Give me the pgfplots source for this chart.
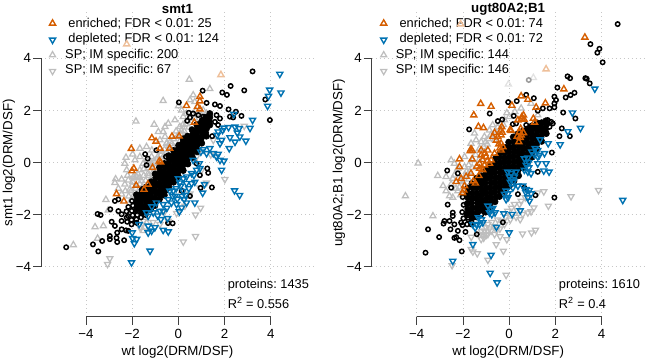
\documentclass[border=0pt]{standalone}
\usepackage{fontspec}
\setmainfont{Liberation Sans}
\usepackage{pgfplots}
\pgfplotsset{compat=1.18}
\definecolor{orgc}{HTML}{D55E00}
\definecolor{orgp}{HTML}{EEBF99}
\definecolor{bluc}{HTML}{0072B2}
\definecolor{gryc}{HTML}{BEBEBE}
\definecolor{gryp}{HTML}{E2E2E2}
\definecolor{axc}{HTML}{404040}
\newcommand{\myf}{\fontsize{13.3}{16}\selectfont\frenchspacing}
\newcommand{\myl}{\fontsize{12.8}{16}\selectfont\frenchspacing}
\pgfplotsset{
  gu/.style={only marks,mark=triangle,color=gryc,mark size=3.5pt,mark options={line width=1.25pt}},
  gd/.style={only marks,mark=triangle,color=gryc,mark size=3.5pt,mark options={rotate=180,line width=1.25pt}},
  bc/.style={only marks,mark=o,color=black,mark size=2.2pt,mark options={line width=1.5pt}},
  bf/.style={only marks,mark=*,color=black,mark size=3.1pt,mark options={line width=.6pt,fill=black}},
  ou/.style={only marks,mark=triangle,color=orgc,mark size=3.5pt,mark options={line width=1.4pt}},
  bd/.style={only marks,mark=triangle,color=bluc,mark size=3.5pt,mark options={rotate=180,line width=1.4pt}},
  panel/.style={
    scale only axis,width=273pt,height=307.7pt,
    xmin=-5.95,xmax=5.87,ymin=-5.93,ymax=5.9,
    clip=false,axis lines=left,axis line style={draw=none,-},
    xtick={-4,-2,0,2,4},ytick={-4,-2,0,2,4},
    xticklabels={−4,−2,0,2,4},yticklabels={−4,−2,0,2,4},
    tick align=outside,major tick length=8pt,
    tick style={draw=axc,line width=0.8pt},
    grid=major,grid style={dash pattern=on 0.9pt off 3.1pt,draw=black!22,line width=0.8pt},
    xticklabel style={yshift=-1pt},yticklabel style={xshift=1.5pt},
    every axis x label/.style={at={(axis description cs:0.5,-0.114)},anchor=center},
    every axis title shift=0pt,
    title style={at={(axis description cs:0.5,1)},anchor=center,font=\myf\bfseries},
  },
}
\begin{document}
\begin{tikzpicture}[font=\myf]
\path[use as bounding box] (0,0) rectangle (648pt,362pt);
\begin{axis}[panel,at={(41pt,45.3pt)},anchor=south west,title={smt1},
  xlabel={wt log2(DRM/DSF)},ylabel={smt1 log2(DRM/DSF)},
  every axis y label/.style={at={(axis description cs:-0.117,0.5)},rotate=90,anchor=center}]
\draw[axc,line width=0.9pt] (axis cs:-5.95,-4)--(axis cs:-5.95,4);
\draw[axc,line width=0.9pt] (axis cs:-4,-5.93)--(axis cs:4,-5.93);
% grey up
\addplot[gu] coordinates {(.47,3.19)(1.36,2.83)(-.66,2.37)(0,2.17)(-1.84,1.58)(-1.05,1.46)(.64,2.59)(.5,2.4)(.71,2.33)(-.58,1.37)(-.44,1.5)(-.15,1.63)(-.66,1.18)(-.58,.99)(-1.67,.54)(-2.27,.19)(-1.98,.32)(-1.88,.09)(-2.32,-.04)(-2.24,-.29)(-2.72,-.64)(-2.46,-.65)(-2.17,-.68)(-1.38,.6)(-1.15,.47)(-1.67,.22)(-1.52,-.04)(-1.67,-.29)(-1.81,-.55)(-1.31,-.42)(-.95,-.42)(-.8,.86)(-.22,.6)(.06,1.37)(.21,1.76)(.93,1.88)(.35,1.88)(.14,2.01)(1.22,1.88)(1.07,2.01)(-.87,1.18)(-.51,.73)(-1.38,.09)(-1.16,.22)(-1.95,-.55)(-3.14,-1.43)(-3.61,-2.48)(-3.25,-2.44)(-3.5,-2.92)(-4.55,-3.17)(-3.04,-1.84)(-2.75,-.78)(-2.32,-.84)(-2.1,-1.03)(-1.95,-1.29)(-2.46,-1.22)(-1.67,-.84)(-1.81,-1.22)(-1.52,-2.63)(-1.45,-2.5)(-1.38,-2.31)(-2.2,-.5)(-2,-.9)(-1.9,-.6)(-1.7,-.6)(-1.5,-.5)(-1.3,-.2)(-1.2,-.1)(-1.05,.05)(-.9,.2)(-.75,.3)(-.6,.5)(-.5,.75)(-.35,.8)(-.2,.9)(-.1,1.2)(.1,1.1)(.2,1.45)(.4,1.6)(.6,1.85)(.75,2.0)(-2.6,-1.0)(-2.3,-1.1)(-2.15,-1.3)(-1.55,-.95)(-1.2,-.65)(-1.0,-.2)(-.85,.0)(-.55,.2)(-.35,.45)(-.15,.5)(.05,.8)(.25,1.2)(.45,1.35)(.7,1.7)
(-1.75,-.45)(-1.6,-.7)(-1.42,-.7)(-1.1,-.38)(-1.28,-.5)(-1.15,-.05)(-.95,.12)(-.72,.42)(-.62,.28)(-.4,.62)(-.28,.72)(-.05,1.0)(.12,1.22)(.32,1.48)(.52,1.72)(-2.05,-1.1)(-1.85,-1.0)(-1.98,-.75)(-2.05,-1.45)(-1.5,-.25)(-1.2,.0)};
% grey down
\addplot[gd] coordinates {(-3.07,-3.91)(-2.97,-3.69)(.21,-3.05)(.74,-2.84)(.74,-2.01)(.96,-1.75)(2.01,-.65)(2.85,1.4)(-1.67,-2.5)(-.44,-2.25)(-.8,-2.38)(-.08,-1.95)(.28,-1.67)(.93,-.97)(1.22,-.78)(.79,.22)(1.51,.86)(-1.1,-2.3)(-.6,-1.9)(-1.5,-2.25)(.5,-1.2)(1,-.3)(1.4,.3)};
% black, open circles that stand clear
\addplot[bc] coordinates {(3.21,3.5)(2.85,2.77)(2.26,2.94)(1.9,2.69)(2.1,2.6)(1.05,2.76)(.02,2.31)(3.76,2.42)(3.96,1.63)(2.17,2.04)(2.49,1.95)(2.73,1.79)(2.23,1.76)(2.37,1.73)(1.22,2.29)(1.58,2.23)(1.8,2.17)(1.65,1.82)(1.8,1.69)(1.58,1.56)(1.72,1.44)(1.46,1.01)(.45,1.91)(.5,1.73)(.38,1.6)(.64,1.88)(.86,1.82)(1.07,1.76)(-1.44,.32)(-1.33,.15)(-1.38,-.1)(-.95,.47)(-.54,.22)(1.25,-.23)(1.29,-.4)(.93,-.49)(.79,-.04)(1.45,-.96)(.96,-.98)(.14,-1.09)(.5,-1.29)(-.45,-2.33)(-.25,-2.34)(-3.5,-1.98)(-3.37,-2.02)(-2.95,-1.8)(-2.89,-2.28)(-2.75,-2.44)(-2.46,-2.57)(-2.27,-2.61)(-2.65,-2.7)(-2.97,-2.83)(-2.97,-2.95)(-3.3,-3.02)(-2.68,-2.9)(-2.65,-3.06)(-2.35,-2.99)(-3.7,-3.15)(-4.86,-3.26)(-3.47,-3.42)(-2.75,-1.48)(-2.6,-1.42)(-2.6,-1.87)(-2.46,-1.99)(-2.46,-2.25)(-2.24,-2.12)(-2.03,-2.38)(-2.17,-2.63)(-1.81,-2.32)
(-2.22,-2.28)(-2.18,-2.06)(-2.25,-1.88)(-2.17,-1.71)
(-2.03,-2.21)(-1.98,-2.03)(-2.02,-1.86)(-1.97,-1.66)(-2.01,-1.48)
(-1.82,-2.19)(-1.78,-2.02)(-1.62,-2.11)(-1.42,-2.02)};
% black, the dense core where the circles overlap
\addplot[bf] coordinates {(-1.83,-1.84)(-1.79,-1.69)(-1.81,-1.53)(-1.78,-1.39)(-1.82,-1.24)
(-1.58,-1.94)(-1.61,-1.79)(-1.59,-1.66)(-1.63,-1.51)(-1.58,-1.36)(-1.6,-1.19)(-1.57,-1.04)
(-1.38,-1.84)(-1.41,-1.71)(-1.37,-1.54)(-1.42,-1.41)(-1.39,-1.26)(-1.41,-1.09)(-1.38,-.94)
(-1.21,-1.81)(-1.18,-1.66)(-1.22,-1.49)(-1.19,-1.36)(-1.21,-1.19)(-1.17,-1.04)(-1.22,-.91)(-1.18,-.74)
(-1.02,-1.66)(-.98,-1.49)(-1.01,-1.36)(-.97,-1.19)(-1.02,-1.06)(-.99,-.89)(-1.03,-.76)(-.98,-.59)(-1.01,-.44)
(-.82,-1.41)(-.78,-1.24)(-.81,-1.11)(-.79,-.94)(-.82,-.81)(-.78,-.64)(-.81,-.51)(-.79,-.34)(-.82,-.19)
(-.61,-1.26)(-.58,-1.09)(-.62,-.96)(-.59,-.79)(-.61,-.66)(-.58,-.49)(-.62,-.36)(-.59,-.19)(-.61,-.04)
(-.42,-.96)(-.38,-.79)(-.41,-.66)(-.39,-.49)(-.42,-.36)(-.38,-.19)(-.41,-.06)(-.39,.11)(-.42,.26)
(-.21,-.76)(-.18,-.59)(-.22,-.46)(-.19,-.29)(-.21,-.16)(-.18,.01)(-.22,.14)(-.19,.31)(-.21,.46)
(.01,-.56)(-.02,-.39)(.02,-.26)(-.01,-.09)(.01,.06)(-.02,.21)(.02,.34)(-.01,.51)(.01,.66)
(.21,-.31)(.18,-.14)(.22,-.01)(.19,.16)(.21,.29)(.18,.46)(.22,.59)(.19,.76)(.21,.91)
(.41,-.06)(.38,.11)(.42,.24)(.39,.41)(.41,.54)(.38,.71)(.42,.84)(.39,1.01)
(.61,.19)(.58,.36)(.62,.49)(.59,.66)(.61,.79)(.58,.96)(.62,1.09)(.59,1.26)
(.81,.41)(.78,.56)(.82,.69)(.79,.86)(.81,.99)(.78,1.16)(.82,1.29)(.79,1.46)
(1.01,.74)(.98,.91)(1.02,1.04)(.99,1.21)(1.01,1.34)(.98,1.51)(1.02,1.61)
(1.21,1.01)(1.18,1.14)(1.22,1.31)(1.19,1.44)(1.21,1.61)(1.18,1.74)
(1.36,1.44)(1.33,1.61)(1.36,1.74)(1.36,1.88)};
% orange
\addplot[ou,color=orgp] coordinates {(-2.24,4.55)(1.84,3.37)};
\addplot[ou] coordinates {(.93,2.53)(.93,2.36)(.35,2.18)(.82,2.14)(.93,2.05)(.69,1.54)(-1.15,.94)(-.97,.81)(-.28,1.0)(.03,1.01)(-2.04,.53)(-.8,.54)(-.38,.54)(-.83,.05)(-.77,.01)(-1.12,-.2)(-1.93,-.23)(-2.01,-.33)(-1.83,-.88)(-1.32,-.84)(-1.49,-1.04)(-2.68,-1.21)(-2.36,-1.49)};
% blue
\addplot[bd] coordinates {(4.39,3.40)(4.44,2.68)(3.95,2.79)(3.90,2.55)(3.86,2.17)(3.21,1.63)(2.4,1.86)(3.1,1.32)(2.92,.83)(2.63,1.31)(2.66,.99)(2.45,1.37)(2.45,.79)(2.2,.54)(2.17,1.35)(1.97,1.33)(1.72,1.18)(1.68,1.05)(1.87,.86)(1.8,.73)(2.23,.96)(2.55,1.14)(1.91,1.24)(1.36,.54)(1.07,.5)(.97,.41)(1.51,.35)(1.22,.35)(1.72,.32)(1.8,.09)(1.97,.06)(1.87,-.29)(1.65,.22)(.64,.09)(.9,-.04)(.93,-.23)(.79,-.29)(.57,-.42)(.35,-.55)(0,-.62)(.21,-.62)(.67,-.49)(2.43,-1.08)(2.65,-1.26)(1.13,-.84)(1.05,-1.17)(.57,-.81)(.71,-.75)(.06,-.78)(-.22,-1.09)(-.37,-1.09)(-.15,-1.29)(-.44,-1.42)(-.3,-1.55)(-.08,-1.61)(.04,-1.89)(.25,-1.42)(.35,-1.55)(.71,-1.55)(.14,-1.74)(-.95,-1.55)(-.66,-1.61)(-.8,-1.87)(-1.38,-1.93)(-1.09,-1.93)(-1.31,-2.06)(-.66,-1.87)(-.47,-2.15)(-.76,-2.19)(-1.7,-2.38)(-1.31,-2.44)(-1.02,-2.5)(-1.31,-2.7)(-1.16,-2.63)(-.66,-2.6)(-.44,-2.66)(-2,-2.7)(-1.81,-2.95)(-1.98,-2.92)(-1.91,-3.11)(-1.23,-3.4)(-2.03,-3.85)(.3,-1.25)(.45,-1.0)(-.1,-1.0)(.2,-1.1)(.1,-.9)(.35,-.8)(-.05,-1.4)(.15,-1.3)(-.25,-1.3)(-.5,-1.75)(-.9,-2.05)(-1.15,-1.7)};
% legend icons
\addplot[ou] coordinates {(-5.45,5.35)};
\addplot[bd] coordinates {(-5.45,4.71)};
\addplot[gu] coordinates {(-5.45,4.13)};
\addplot[gd] coordinates {(-5.45,3.51)};
\node[anchor=west,inner sep=0pt,font=\myl] at (axis cs:-4.77,5.33) {enriched; FDR < 0.01: 25};
\node[anchor=west,inner sep=0pt,font=\myl] at (axis cs:-4.77,4.73) {depleted; FDR < 0.01: 124};
\node[anchor=west,inner sep=0pt,font=\myl] at (axis cs:-4.91,4.13) {SP; IM specific: 200};
\node[anchor=west,inner sep=0pt,font=\myl] at (axis cs:-4.91,3.53) {SP; IM specific: 67};
\node[anchor=west,inner sep=0pt,font=\myl] at (axis cs:2.13,-4.71) {proteins: 1435};
\node[anchor=west,inner sep=0pt,font=\myl] at (axis cs:2.13,-5.40) {R\textsuperscript{2} = 0.556};
\end{axis}
\begin{axis}[panel,at={(371.7pt,45.3pt)},anchor=south west,title={ugt80A2;B1},
  xlabel={wt log2(DRM/DSF)},ylabel={ugt80A2;B1 log2(DRM/DSF)},
  every axis y label/.style={at={(axis description cs:-0.12,0.5)},rotate=90,anchor=center}]
\draw[axc,line width=0.9pt] (axis cs:-5.95,-4)--(axis cs:-5.95,4);
\draw[axc,line width=0.9pt] (axis cs:-4,-5.93)--(axis cs:4,-5.93);
% grey up
\addplot[gu,color=gryp] coordinates {(-.03,3.01)(1.05,3.26)};
\addplot[gu] coordinates {(-3.94,-.03)(-2.51,.09)(-3.09,-.51)(-2.73,-.55)(-2.37,-.49)(-2.37,-.04)(-1.93,.22)(-1.5,1.12)(-1.43,.86)(-1.65,.73)(-.71,1.44)(-.85,1.24)(-1.93,-.17)(-1.72,-.36)(-1.57,.09)(-1.21,.79)(-1.02,.79)(-1.07,.99)(.01,1.76)(.52,2.08)(.95,2.27)(1.24,1.82)(-.2,1.63)(-.63,.86)(-1.28,.54)(-2.22,-.23)(-2.44,-.62)(-4.49,-1.29)(-3.3,-2.06)(-2.51,-.84)(-2.73,-1.1)(-2.44,-1.35)(-2.22,-1.1)(-2.58,-1.29)(-2.86,-.9)(-2.1,-.7)(-1.9,-.5)(-1.75,-.1)(-1.45,.3)(-1.3,.1)(-1.1,.6)(-.9,.9)(-.6,1.2)(-.4,1.5)(-.1,1.9)(.25,1.95)
(-2.3,-1.0)(-2.15,-.95)(-2.1,-1.25)(-2.0,-.75)(-1.85,-.35)(-1.75,-.65)(-1.6,-.2)(-.95,.7)(-.8,1.05)(-.5,1.35)(-.25,1.45)};
% grey down
\addplot[gd] coordinates {(3.87,-1.07)(2.68,-1.31)(1.7,-1.67)(1.5,-1.12)(1.24,-1.16)(1.07,-1.74)(.95,-1.89)(.48,-2.19)(1.14,-2.6)(.97,-2.7)(.58,-2.74)(-.1,-2.96)(-.39,-2.85)(-.56,-3.15)(-.25,-3.4)(-.92,-3.75)(-1.64,-3.34)(-1.57,-3.43)(-1.38,-3.5)(-.13,-4.33)(-2.47,-3.96)(-1.64,-2.87)(-1.1,-2.9)(-.92,-2.76)(-.78,-2.63)(-1.07,-2.76)(-1.21,-2.95)(-.63,-2.76)(.45,-1.61)(.23,-1.61)(.52,-1.48)(-.06,-1.87)(-.35,-2.25)(-.92,-2.38)(-1.07,-2.63)(.81,-1.93)(.59,-1.99)(-.2,-2.38)(-1.0,-2.5)(-.65,-2.45)(.3,-2.1)(.1,-1.75)(.7,-1.35)
(-1.2,-2.65)(-1.0,-2.8)(-.85,-2.55)(-.75,-2.3)(-.5,-2.2)(-.4,-2.55)(-.15,-2.1)(.05,-2.2)(.35,-1.85)(-1.3,-2.8)(-.55,-2.6)};
% black circles drawn pale under the legend
\addplot[bc,color=black!40] coordinates {(.85,3.17)};
% black, open circles that stand clear
\addplot[bc] coordinates {(4.7,5.32)(3.52,4.55)(3.91,4.37)(3.82,4.22)(4.05,3.85)(2.53,3.31)(2.64,3.24)(2.09,2.88)(3.3,3.24)(3.36,3.22)(3.49,3.04)(2.83,2.68)(2.66,2.59)(2.45,2.5)(1.96,2.53)(2.03,2.4)(1.96,2.27)(1.75,2.08)(1.96,2.12)(2.34,1.92)(2.87,1.69)(2.28,1.31)(2.18,1.01)(2.63,1.01)(1.82,1.56)(1.67,1.63)(1.89,1.5)(1.75,1.37)(1.46,1.44)(1.85,.38)(.74,2.6)(.33,2.36)(-.04,2.32)(1.07,2.47)(1.24,1.99)(1.46,2.08)(-.84,1.88)(-1.73,1.27)(-.49,1.59)(-.3,1.65)(.2,1.79)(.16,1.47)(.3,1.5)(.74,1.44)(.95,1.31)(-2.68,-.31)(-2.22,-.42)(1.39,.99)(1.24,-.36)(1.96,-1.35)(1.14,-1.26)(-2.66,-1.62)(-3.51,-2.57)(-3.03,-2.87)(-3.62,-3.47)(-2.05,-3.42)(-2.15,-2.99)(-2.29,-2.87)(-2.37,-2.9)(-2.8,-2.25)(-2.84,-2.35)(-2.44,-1.93)(-2.44,-2.06)(-2.54,-2.57)(-2.51,-.97)(-2.37,-2.38)(-2.58,-2.25)(-2.08,-2.31)(-2.22,-2.63)(-1.89,-2.67)(-1.4,-2.76)(-.27,-2.3)(-1.64,-2.38)(-1.78,-2.12)(.38,-1.22)(.66,-.97)
(-2.02,-2.41)(-1.98,-2.15)(-2.03,-1.91)(-1.97,-1.63)(-2.01,-1.33)
(-1.82,-2.38)(-1.78,-2.19)(-1.62,-2.31)(-1.42,-2.11)(-1.21,-2.01)};
% black, the dense core where the circles overlap
\addplot[bf] coordinates {(-1.83,-1.98)(-1.79,-1.79)(-1.81,-1.58)(-1.78,-1.36)(-1.82,-1.17)(-1.79,-.98)
(-1.58,-2.12)(-1.61,-1.94)(-1.59,-1.75)(-1.63,-1.56)(-1.58,-1.38)(-1.6,-1.19)(-1.57,-.98)(-1.61,-.81)
(-1.38,-1.94)(-1.41,-1.75)(-1.37,-1.56)(-1.42,-1.38)(-1.39,-1.19)(-1.41,-.98)(-1.38,-.81)(-1.41,-.61)
(-1.18,-1.82)(-1.22,-1.64)(-1.19,-1.46)(-1.21,-1.27)(-1.17,-1.08)(-1.22,-.89)(-1.18,-.71)(-1.21,-.51)
(-1.02,-1.91)(-.98,-1.72)(-1.01,-1.54)(-.97,-1.36)(-1.02,-1.17)(-.99,-.98)(-1.03,-.79)(-.98,-.61)(-1.01,-.42)(-.98,-.28)
(-.82,-1.71)(-.78,-1.52)(-.81,-1.34)(-.79,-1.16)(-.82,-.97)(-.78,-.78)(-.81,-.59)(-.79,-.41)(-.82,-.24)(-.79,-.08)
(-.61,-1.51)(-.58,-1.33)(-.62,-1.14)(-.59,-.96)(-.61,-.77)(-.58,-.58)(-.62,-.39)(-.59,-.21)(-.61,-.02)(-.58,.18)
(-.42,-1.31)(-.38,-1.12)(-.41,-.94)(-.39,-.76)(-.42,-.57)(-.38,-.38)(-.41,-.19)(-.39,-.01)(-.42,.18)(-.38,.38)
(-.21,-1.11)(-.18,-.92)(-.22,-.74)(-.19,-.56)(-.21,-.37)(-.18,-.18)(-.22,.01)(-.19,.19)(-.21,.38)(-.18,.58)
(.01,-.91)(-.02,-.72)(.02,-.54)(-.01,-.36)(.01,-.17)(-.02,.02)(.02,.21)(-.01,.39)(.01,.58)(-.02,.78)
(.21,-.71)(.18,-.52)(.22,-.34)(.19,-.16)(.21,.03)(.18,.22)(.22,.41)(.19,.59)(.21,.78)(.18,.98)
(.41,-.51)(.38,-.32)(.42,-.14)(.39,.04)(.41,.23)(.38,.42)(.42,.61)(.39,.79)(.41,.98)(.38,1.1)
(.61,-.21)(.58,-.02)(.62,.16)(.59,.34)(.61,.53)(.58,.72)(.62,.91)(.59,1.09)(.61,1.21)
(.81,.01)(.78,.18)(.82,.36)(.79,.54)(.81,.73)(.78,.92)(.82,1.11)(.79,1.29)
(1.01,.21)(.98,.38)(1.02,.56)(.99,.74)(1.01,.93)(.98,1.12)(1.02,1.31)(.99,1.41)
(1.21,.51)(1.18,.68)(1.22,.86)(1.19,1.04)(1.21,1.23)(1.18,1.42)(1.22,1.52)
(1.41,.81)(1.38,.98)(1.42,1.16)(1.39,1.34)(1.41,1.53)
(1.61,1.11)(1.58,1.28)(1.62,1.46)(1.59,1.6)};
% orange
\addplot[ou,color=orgp] coordinates {(-2.1,5.32)(1.6,3.59)};
\addplot[ou] coordinates {(3.28,4.81)(2.37,2.82)(.52,2.55)(.81,2.42)(1.57,2.28)(.12,2.19)(1.17,2.12)(-1.23,2.26)(-.78,2.15)(-1.53,1.82)(-1.33,1.38)(-1.11,1.33)(.62,1.82)(.55,1.69)(.38,1.63)(1.05,1.69)(1.10,1.54)(-.32,1.37)(-.35,1.24)(-.63,1.14)(-.71,.99)(-.49,.99)(-.35,1.05)(.09,1.22)(.04,1.25)(.45,1.18)(.62,1.14)(.52,1.05)(.42,.79)(-.27,.6)(-.35,.47)(-.35,.73)(-1.65,.51)(-1.69,.44)(-1.21,.47)(-2.15,.13)(-1.6,.13)(-1.21,.28)(-.92,.47)(-1,.22)(-.78,.09)(-.85,-.04)(-1.28,-.04)(-1.07,-.1)(-2.15,-.17)(-1.28,-.23)(-1.86,-.55)(-1.31,-.51)(-1.65,-.42)(-2.08,-.62)(-.63,.35)(-1.14,-.29)(-1.96,-1.07)(-2.02,-1.17)(-1.46,-.8)(-2.29,-.74)(-1.93,-.9)(-1.55,-.72)(-.55,.85)(-.3,1.15)(.55,1.75)(.65,1.65)(.5,1.3)(-1.6,.45)(-1.05,.35)(-1.15,.1)(-.95,.05)(-.45,.7)(-.4,.55)(.35,1.0)(.48,.95)(-1.4,-.15)};
% blue
\addplot[bd] coordinates {(3.71,2.83)(2.74,1.91)(3.09,1.32)(2.54,1.19)(2.21,.69)(1.69,.73)(1.34,.88)(1.13,.54)(.98,.41)(1.24,.47)(1.53,.35)(1.31,.28)(1.6,-.04)(1.24,-.04)(1.5,-.32)(1.73,-.36)(.66,.15)(.81,.18)(.74,-.1)(.81,-.36)(.95,-.42)(.66,-.29)(-.06,-.36)(.09,-.42)(.3,-.36)(.01,-.55)(.23,-.55)(.09,-.65)(1.24,.22)(4.92,-1.45)(.87,-1.07)(.74,-1.03)(.81,-1.35)(.88,-1.48)(.59,-.9)(.38,-.9)(.16,-.97)(-.13,-1.09)(-.2,-1.22)(-.13,-1.42)(-.92,-1.67)(-.78,-1.8)(-.61,-1.93)(-.85,-1.93)(.48,-1.85)(.13,-1.99)(-.23,-1.97)(-1.33,-2.12)(-1.14,-2.31)(-1.57,-2.38)(-1.47,-2.51)(-1.28,-2.38)(-.55,-2.48)(0,-2.7)(-1.57,-3.15)(-.78,-3.56)(-2.44,-3.79)(-.82,-4.25)(-.52,-4.62)(.05,-.75)(.2,-.72)(1.1,.3)(.85,-.2)(.72,-1.15)(.95,-1.2)(-.05,-1.2)(-.05,-1.35)(-.7,-1.75)(-.75,-2.0)(-1.4,-2.4)(-1.2,-2.2)(.85,.0)};
\addplot[ou] coordinates {(-5.43,5.35)};
\addplot[bd] coordinates {(-5.43,4.71)};
\addplot[gu] coordinates {(-5.43,4.13)};
\addplot[gd] coordinates {(-5.43,3.51)};
\node[anchor=west,inner sep=0pt,font=\myl] at (axis cs:-4.75,5.33) {enriched; FDR < 0.01: 74};
\node[anchor=west,inner sep=0pt,font=\myl] at (axis cs:-4.75,4.73) {depleted; FDR < 0.01: 72};
\node[anchor=west,inner sep=0pt,font=\myl] at (axis cs:-4.91,4.13) {SP; IM specific: 144};
\node[anchor=west,inner sep=0pt,font=\myl] at (axis cs:-4.91,3.53) {SP; IM specific: 146};
\node[anchor=west,inner sep=0pt,font=\myl] at (axis cs:2.15,-4.71) {proteins: 1610};
\node[anchor=west,inner sep=0pt,font=\myl] at (axis cs:2.15,-5.40) {R\textsuperscript{2} = 0.4};
\end{axis}
\end{tikzpicture}
\end{document}
